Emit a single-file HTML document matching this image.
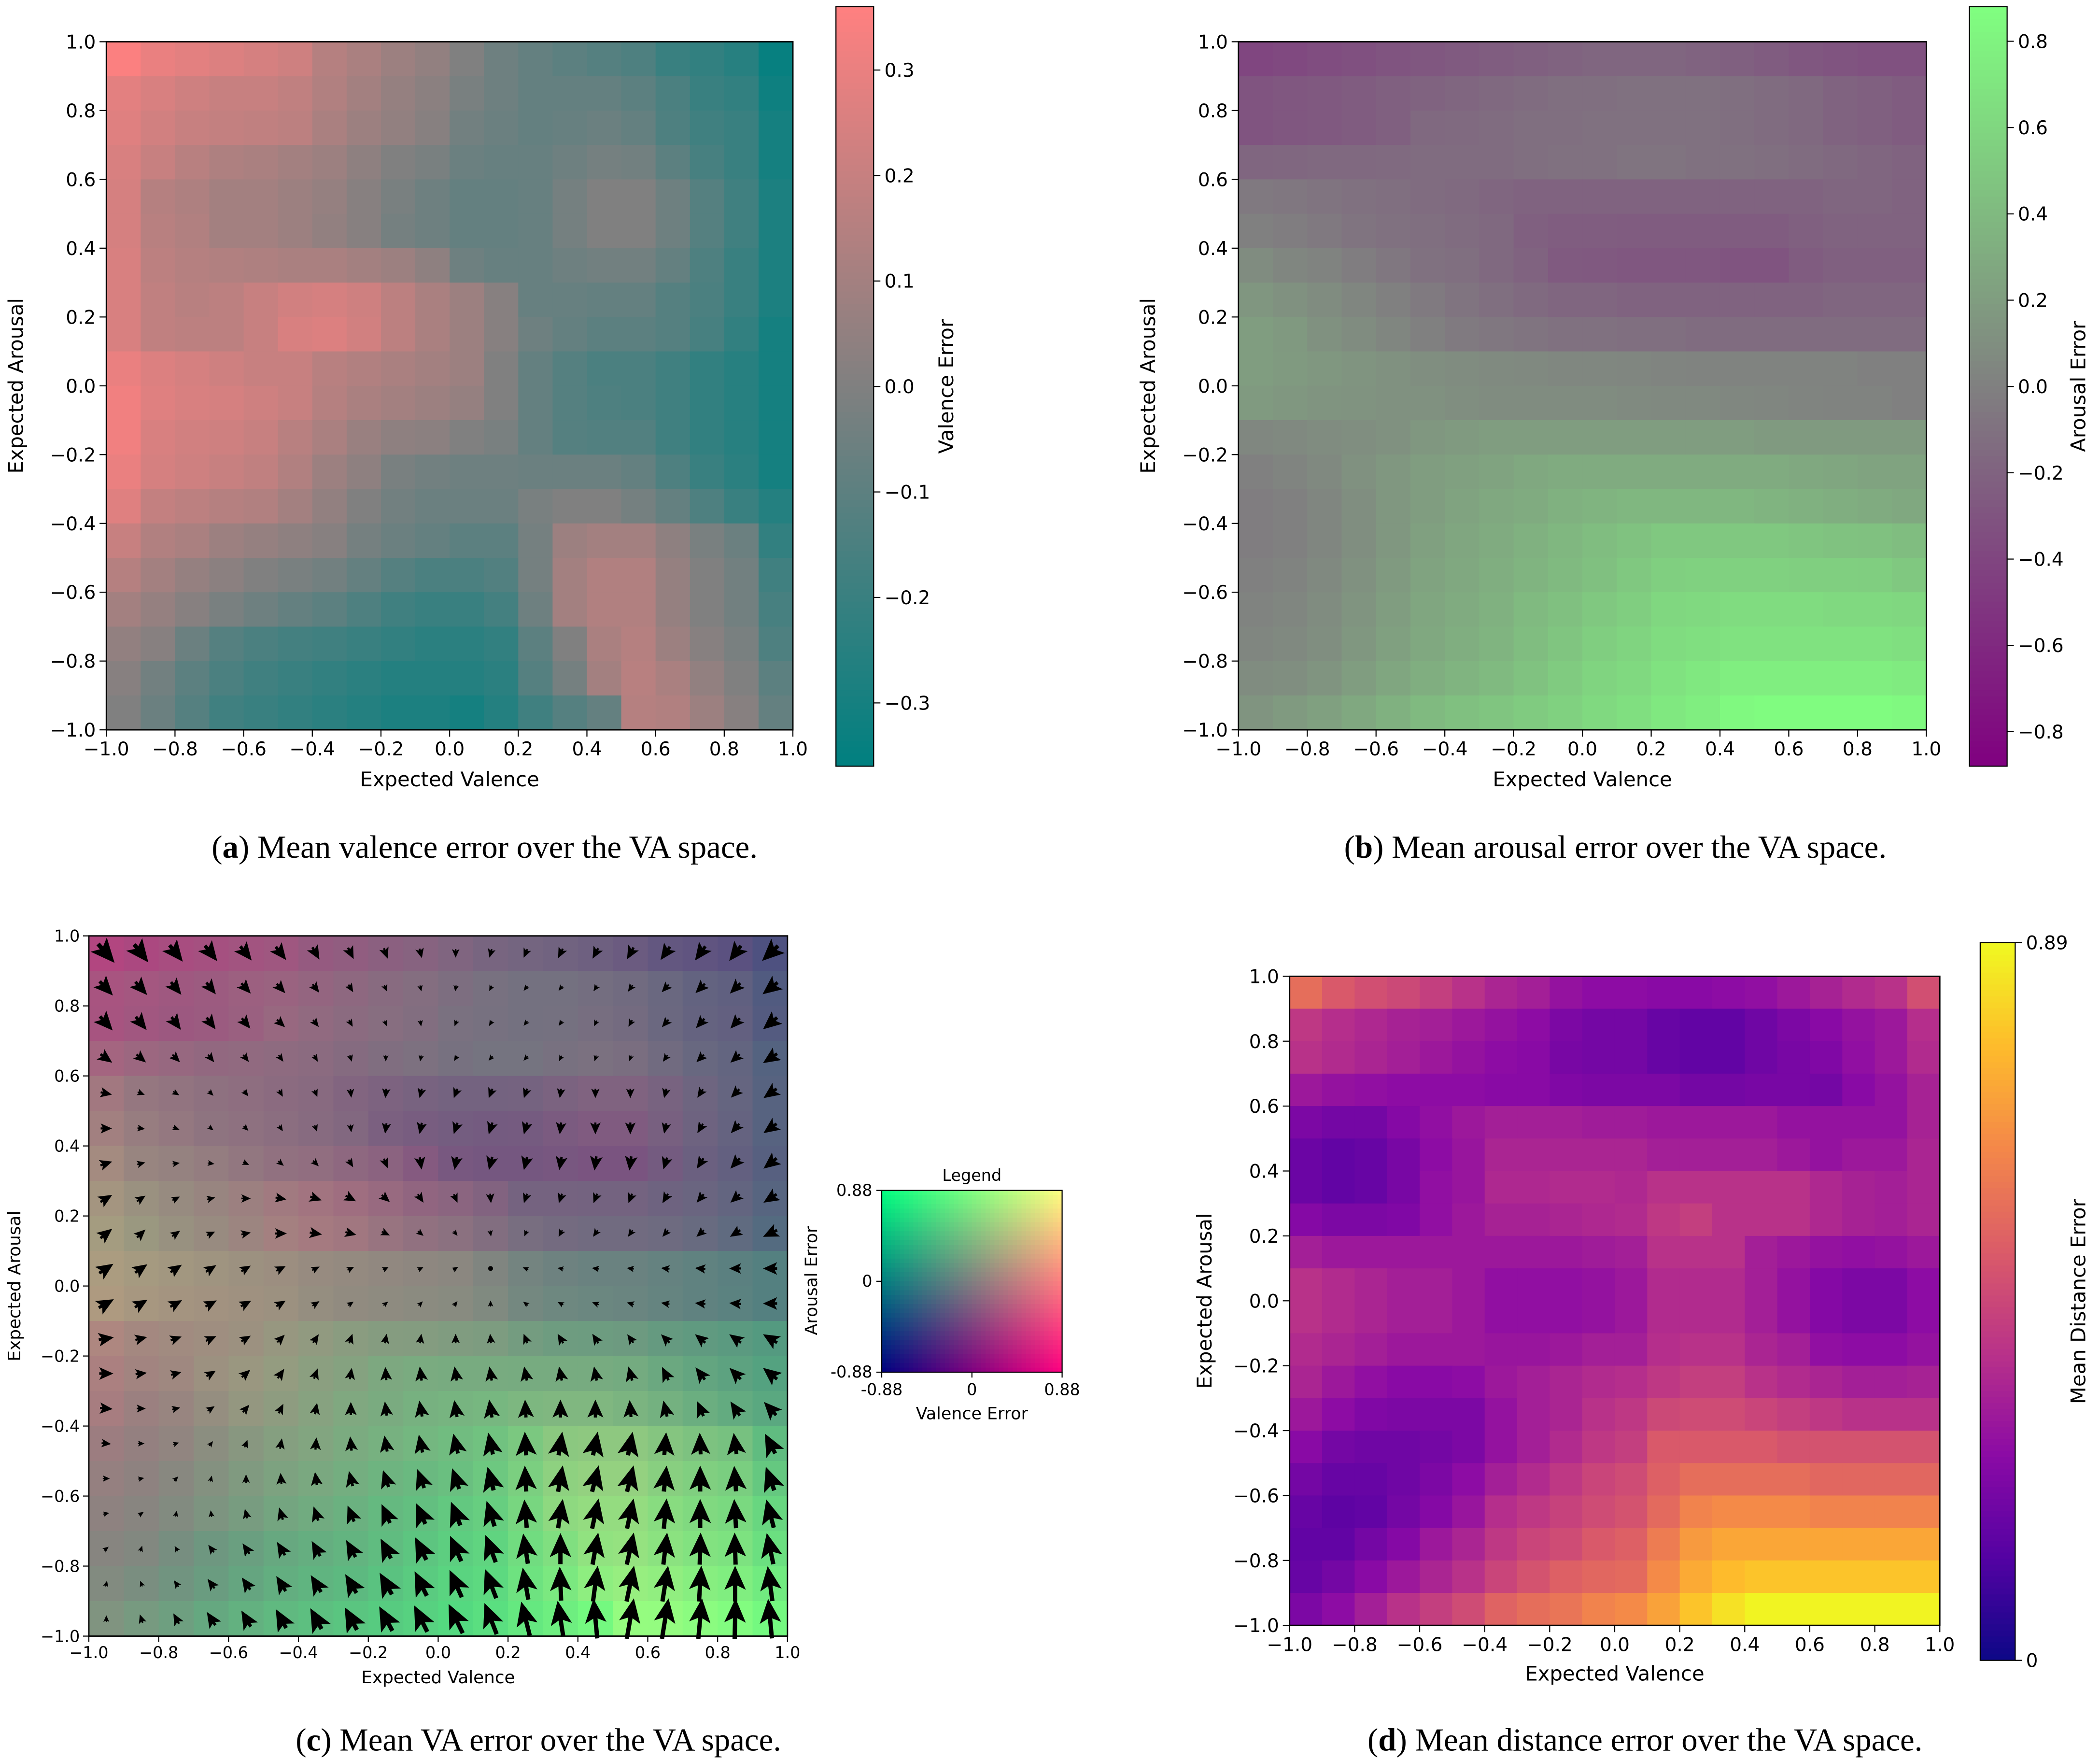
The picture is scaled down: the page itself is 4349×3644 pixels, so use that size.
<!DOCTYPE html>
<html><head><meta charset="utf-8">
<style>
html,body{margin:0;padding:0;background:#fff;}
svg{display:block;}
text{font-family:"DejaVu Sans","Liberation Sans",sans-serif;fill:#000;}
.cap{font-family:"Liberation Serif",serif;}
</style></head>
<body>
<svg id="fig" xmlns="http://www.w3.org/2000/svg" width="4349" height="3644" viewBox="0 0 1560 1307" preserveAspectRatio="none">
<rect x="0" y="0" width="1560" height="1307" fill="#fff"/>
</svg>
<script>
// ---- data (rows top arousal 0.9..1.0 -> bottom -1.0..-0.9; columns valence -1..1) ----
const tickValues = [-1.0,-0.8,-0.6,-0.4,-0.2,0.0,0.2,0.4,0.6,0.8,1.0];
const tickLabels = ["\u22121.0","\u22120.8","\u22120.6","\u22120.4","\u22120.2","0.0","0.2","0.4","0.6","0.8","1.0"];
const valenceCbarTicks = [0.3,0.2,0.1,0.0,-0.1,-0.2,-0.3];
const valenceCbarLabels = ["0.3","0.2","0.1","0.0","\u22120.1","\u22120.2","\u22120.3"];
const arousalCbarTicks = [0.8,0.6,0.4,0.2,0.0,-0.2,-0.4,-0.6,-0.8];
const arousalCbarLabels = ["0.8","0.6","0.4","0.2","0.0","\u22120.2","\u22120.4","\u22120.6","\u22120.8"];
const distCbarTicks = [0.89,0];
const distCbarLabels = ["0.89","0"];
const valenceErr = [
[0.35,0.3,0.28,0.26,0.24,0.22,0.15,0.12,0.08,0.05,0.0,-0.05,-0.08,-0.1,-0.12,-0.14,-0.2,-0.22,-0.25,-0.34],
[0.28,0.25,0.22,0.2,0.2,0.18,0.14,0.1,0.06,0.03,-0.02,-0.05,-0.08,-0.08,-0.08,-0.1,-0.15,-0.2,-0.22,-0.32],
[0.27,0.23,0.2,0.19,0.18,0.17,0.12,0.08,0.05,0.02,-0.04,-0.06,-0.08,-0.07,-0.06,-0.08,-0.14,-0.18,-0.2,-0.3],
[0.25,0.2,0.16,0.13,0.12,0.1,0.08,0.04,0.0,-0.02,-0.06,-0.07,-0.07,-0.05,-0.03,-0.04,-0.1,-0.16,-0.2,-0.3],
[0.24,0.15,0.13,0.1,0.1,0.08,0.06,0.02,-0.02,-0.05,-0.08,-0.08,-0.07,-0.03,0.0,0.0,-0.05,-0.12,-0.18,-0.28],
[0.24,0.16,0.14,0.1,0.1,0.08,0.05,0.02,-0.03,-0.05,-0.08,-0.08,-0.07,-0.03,0.0,0.0,-0.05,-0.12,-0.18,-0.28],
[0.25,0.17,0.15,0.14,0.13,0.12,0.12,0.1,0.08,0.04,-0.05,-0.07,-0.07,-0.05,-0.04,-0.04,-0.08,-0.14,-0.2,-0.28],
[0.25,0.18,0.16,0.17,0.2,0.23,0.24,0.22,0.17,0.12,0.08,0.02,-0.07,-0.07,-0.08,-0.08,-0.12,-0.15,-0.2,-0.28],
[0.25,0.18,0.17,0.17,0.2,0.25,0.26,0.23,0.17,0.12,0.08,0.02,-0.05,-0.08,-0.1,-0.1,-0.12,-0.16,-0.22,-0.3],
[0.3,0.26,0.24,0.22,0.2,0.2,0.16,0.14,0.12,0.1,0.08,0.0,-0.08,-0.12,-0.15,-0.15,-0.18,-0.22,-0.25,-0.3],
[0.32,0.27,0.25,0.24,0.22,0.2,0.15,0.12,0.1,0.08,0.06,0.0,-0.08,-0.12,-0.14,-0.15,-0.18,-0.22,-0.25,-0.3],
[0.32,0.25,0.23,0.22,0.2,0.16,0.12,0.07,0.04,0.03,0.0,-0.02,-0.08,-0.12,-0.13,-0.13,-0.18,-0.22,-0.25,-0.3],
[0.3,0.24,0.22,0.2,0.18,0.14,0.08,0.04,-0.02,-0.04,-0.05,-0.05,-0.06,-0.06,-0.06,-0.08,-0.14,-0.2,-0.24,-0.3],
[0.27,0.19,0.17,0.15,0.14,0.1,0.05,0.0,-0.04,-0.06,-0.06,-0.06,-0.02,0.0,0.0,-0.03,-0.08,-0.14,-0.2,-0.26],
[0.2,0.14,0.12,0.08,0.06,0.04,0.02,-0.03,-0.06,-0.08,-0.1,-0.1,-0.03,0.08,0.1,0.1,0.04,-0.02,-0.06,-0.22],
[0.15,0.1,0.06,0.03,0.0,-0.02,-0.04,-0.08,-0.12,-0.15,-0.15,-0.13,-0.03,0.1,0.14,0.14,0.06,0.0,-0.04,-0.18],
[0.1,0.06,0.02,-0.02,-0.05,-0.08,-0.1,-0.14,-0.18,-0.2,-0.2,-0.17,-0.05,0.1,0.14,0.14,0.06,0.0,-0.04,-0.16],
[0.05,0.02,-0.06,-0.12,-0.15,-0.17,-0.18,-0.2,-0.22,-0.24,-0.24,-0.22,-0.1,0.0,0.12,0.15,0.08,0.02,-0.02,-0.14],
[0.02,-0.04,-0.1,-0.15,-0.18,-0.2,-0.22,-0.24,-0.26,-0.26,-0.26,-0.24,-0.12,-0.03,0.1,0.16,0.12,0.05,0.0,-0.1],
[0.0,-0.06,-0.12,-0.18,-0.2,-0.22,-0.24,-0.26,-0.28,-0.28,-0.3,-0.26,-0.18,-0.12,-0.08,0.15,0.14,0.08,0.02,-0.08]
];
const arousalErr = [
[-0.4,-0.38,-0.35,-0.33,-0.3,-0.28,-0.26,-0.24,-0.22,-0.2,-0.18,-0.18,-0.18,-0.2,-0.22,-0.25,-0.28,-0.3,-0.32,-0.32],
[-0.3,-0.28,-0.27,-0.25,-0.22,-0.2,-0.18,-0.16,-0.14,-0.12,-0.12,-0.1,-0.1,-0.1,-0.12,-0.14,-0.16,-0.2,-0.22,-0.25],
[-0.3,-0.28,-0.27,-0.25,-0.22,-0.16,-0.15,-0.14,-0.12,-0.12,-0.1,-0.1,-0.1,-0.1,-0.12,-0.14,-0.16,-0.2,-0.22,-0.25],
[-0.18,-0.17,-0.16,-0.16,-0.15,-0.14,-0.14,-0.14,-0.12,-0.1,-0.1,-0.08,-0.08,-0.1,-0.1,-0.12,-0.14,-0.16,-0.18,-0.2],
[-0.05,-0.06,-0.08,-0.1,-0.12,-0.14,-0.15,-0.18,-0.2,-0.2,-0.2,-0.2,-0.2,-0.2,-0.2,-0.2,-0.2,-0.18,-0.18,-0.2],
[0.0,-0.02,-0.05,-0.08,-0.1,-0.12,-0.14,-0.16,-0.22,-0.24,-0.24,-0.25,-0.25,-0.25,-0.25,-0.25,-0.22,-0.2,-0.2,-0.2],
[0.08,0.04,0.02,-0.02,-0.06,-0.1,-0.12,-0.16,-0.2,-0.26,-0.27,-0.28,-0.28,-0.28,-0.3,-0.3,-0.25,-0.22,-0.22,-0.22],
[0.15,0.12,0.08,0.04,0.0,-0.04,-0.08,-0.12,-0.15,-0.18,-0.18,-0.2,-0.2,-0.2,-0.2,-0.2,-0.2,-0.18,-0.18,-0.18],
[0.2,0.17,0.12,0.08,0.04,0.0,-0.04,-0.06,-0.08,-0.1,-0.1,-0.12,-0.12,-0.14,-0.14,-0.14,-0.14,-0.14,-0.14,-0.14],
[0.2,0.18,0.16,0.14,0.12,0.1,0.08,0.07,0.06,0.05,0.05,0.04,0.03,0.02,0.02,0.02,0.02,0.02,0.0,0.0],
[0.18,0.16,0.14,0.13,0.12,0.12,0.1,0.08,0.08,0.08,0.08,0.07,0.06,0.06,0.05,0.04,0.03,0.02,0.02,0.0],
[0.05,0.06,0.08,0.1,0.12,0.16,0.18,0.2,0.2,0.2,0.2,0.2,0.2,0.2,0.2,0.18,0.18,0.18,0.18,0.18],
[0.0,0.03,0.06,0.12,0.16,0.2,0.22,0.24,0.28,0.3,0.3,0.3,0.3,0.3,0.3,0.3,0.28,0.26,0.24,0.24],
[-0.02,0.0,0.04,0.1,0.16,0.2,0.24,0.28,0.3,0.34,0.36,0.38,0.38,0.38,0.38,0.36,0.34,0.32,0.3,0.28],
[-0.02,0.0,0.04,0.1,0.16,0.22,0.26,0.3,0.34,0.38,0.42,0.46,0.5,0.5,0.5,0.5,0.48,0.46,0.45,0.42],
[0.0,0.02,0.06,0.12,0.18,0.24,0.28,0.32,0.36,0.4,0.44,0.5,0.55,0.56,0.56,0.56,0.55,0.55,0.54,0.5],
[0.02,0.04,0.08,0.14,0.2,0.26,0.3,0.34,0.4,0.44,0.5,0.54,0.6,0.62,0.64,0.64,0.64,0.62,0.62,0.6],
[0.04,0.06,0.1,0.16,0.22,0.28,0.32,0.36,0.42,0.48,0.54,0.58,0.64,0.66,0.68,0.68,0.68,0.68,0.68,0.66],
[0.08,0.1,0.14,0.2,0.26,0.32,0.36,0.4,0.46,0.52,0.58,0.62,0.68,0.72,0.76,0.76,0.76,0.76,0.76,0.74],
[0.14,0.18,0.22,0.28,0.34,0.4,0.44,0.48,0.52,0.56,0.62,0.66,0.72,0.76,0.84,0.86,0.86,0.86,0.86,0.84]
];
const distErr = [
[0.56,0.5,0.47,0.45,0.42,0.38,0.34,0.32,0.28,0.26,0.26,0.25,0.25,0.26,0.27,0.3,0.33,0.36,0.38,0.47],
[0.4,0.37,0.35,0.33,0.32,0.3,0.28,0.26,0.22,0.2,0.2,0.17,0.16,0.16,0.19,0.22,0.25,0.28,0.3,0.37],
[0.38,0.36,0.34,0.32,0.3,0.28,0.26,0.25,0.21,0.2,0.2,0.17,0.16,0.16,0.19,0.21,0.23,0.27,0.3,0.36],
[0.3,0.28,0.27,0.26,0.26,0.26,0.25,0.25,0.23,0.22,0.22,0.22,0.2,0.2,0.21,0.21,0.2,0.25,0.28,0.33],
[0.22,0.2,0.2,0.24,0.27,0.3,0.32,0.32,0.32,0.31,0.31,0.3,0.3,0.3,0.3,0.28,0.28,0.28,0.28,0.33],
[0.18,0.16,0.17,0.21,0.26,0.29,0.34,0.34,0.34,0.34,0.34,0.32,0.32,0.32,0.32,0.3,0.28,0.3,0.3,0.34],
[0.18,0.16,0.17,0.21,0.27,0.29,0.35,0.35,0.36,0.36,0.35,0.38,0.38,0.38,0.38,0.38,0.35,0.33,0.32,0.34],
[0.24,0.22,0.22,0.23,0.27,0.3,0.33,0.33,0.34,0.35,0.36,0.4,0.42,0.38,0.38,0.38,0.35,0.33,0.32,0.34],
[0.32,0.3,0.3,0.3,0.3,0.3,0.3,0.3,0.3,0.31,0.32,0.38,0.38,0.38,0.32,0.3,0.28,0.27,0.28,0.3],
[0.38,0.36,0.34,0.32,0.32,0.3,0.27,0.27,0.27,0.28,0.3,0.36,0.36,0.36,0.32,0.28,0.24,0.22,0.22,0.26],
[0.38,0.36,0.34,0.32,0.32,0.3,0.27,0.27,0.27,0.28,0.3,0.36,0.36,0.36,0.32,0.28,0.24,0.22,0.22,0.26],
[0.36,0.34,0.32,0.3,0.3,0.3,0.29,0.29,0.3,0.32,0.32,0.37,0.38,0.38,0.34,0.32,0.27,0.26,0.26,0.28],
[0.34,0.3,0.27,0.25,0.25,0.26,0.3,0.32,0.34,0.36,0.37,0.4,0.42,0.42,0.38,0.36,0.34,0.32,0.32,0.33],
[0.3,0.26,0.23,0.22,0.22,0.22,0.28,0.32,0.34,0.38,0.4,0.45,0.46,0.46,0.44,0.42,0.4,0.38,0.38,0.38],
[0.25,0.2,0.19,0.19,0.2,0.22,0.28,0.32,0.36,0.4,0.42,0.5,0.5,0.5,0.5,0.48,0.48,0.48,0.48,0.48],
[0.2,0.17,0.17,0.19,0.22,0.26,0.32,0.36,0.4,0.44,0.46,0.52,0.56,0.56,0.56,0.56,0.54,0.54,0.54,0.54],
[0.17,0.15,0.16,0.2,0.24,0.29,0.37,0.4,0.43,0.46,0.48,0.55,0.62,0.64,0.64,0.64,0.62,0.62,0.62,0.62],
[0.16,0.16,0.2,0.24,0.3,0.34,0.4,0.44,0.46,0.5,0.52,0.6,0.68,0.71,0.71,0.71,0.71,0.71,0.71,0.71],
[0.17,0.2,0.25,0.3,0.34,0.38,0.44,0.48,0.52,0.54,0.55,0.64,0.72,0.76,0.78,0.78,0.78,0.78,0.78,0.78],
[0.22,0.26,0.32,0.38,0.42,0.46,0.53,0.56,0.58,0.62,0.64,0.7,0.78,0.84,0.88,0.88,0.88,0.88,0.88,0.88]
];

const NS = "http://www.w3.org/2000/svg";
const svg = document.getElementById('fig');
function mk(parent, tag, attrs, txt){
  const e = document.createElementNS(NS, tag);
  for (const k in attrs) e.setAttribute(k, attrs[k]);
  if (txt !== undefined) e.textContent = txt;
  parent.appendChild(e);
  return e;
}
function lerp(a,b,t){return a+(b-a)*t;}
function rgb(r,g,b){return `rgb(${Math.round(r)},${Math.round(g)},${Math.round(b)})`;}
function valenceColor(v){
  const t = Math.max(-1, Math.min(1, v/0.36));
  if (t < 0) return rgb(lerp(128,0,-t),128,128);
  return rgb(lerp(128,255,t),128,128);
}
function arousalColor(v){
  const t = Math.max(-1, Math.min(1, v/0.88));
  if (t < 0) return rgb(128,lerp(128,0,-t),128);
  return rgb(128,lerp(128,255,t),128);
}
function vaColor(v,a){
  const r = Math.max(0,Math.min(1,(v+0.88)/1.76))*255;
  const g = Math.max(0,Math.min(1,(a+0.88)/1.76))*255;
  return rgb(r,g,128);
}
const plasmaStops = [[13,8,135],[84,2,163],[139,10,165],[185,50,137],[219,92,104],[244,136,73],[254,188,43],[240,249,33]];
function plasmaColor(v){
  const t = Math.max(0,Math.min(1,v/0.89))*(plasmaStops.length-1);
  const i = Math.min(plasmaStops.length-2, Math.floor(t)); const f = t-i;
  const a = plasmaStops[i], b = plasmaStops[i+1];
  return rgb(lerp(a[0],b[0],f),lerp(a[1],b[1],f),lerp(a[2],b[2],f));
}
function makeAxis(x0,y0,w,h){
  return {x0,y0,w,h, sx:v=>x0+(v+1)/2*w, sy:a=>y0+(1-a)/2*h};
}
function drawHeatmap(ax, colorAt, name){
  const g = mk(svg,'g',{});
  
  
  for (let r=0;r<20;r++){
    for (let c=0;c<20;c++){
      const v0 = -1+0.1*c, a1 = 1-0.1*r;
      const x = ax.sx(v0), y = ax.sy(a1);
      const cell = mk(g,'rect',{x:x, y:y, width:ax.sx(v0+0.1)-x+0.4, height:ax.sy(a1-0.1)-y+0.4, fill:colorAt(r,c)});
      
      
    }
  }
  const fr = mk(svg,'rect',{x:ax.x0,y:ax.y0,width:ax.w,height:ax.h,fill:'none',stroke:'#000','stroke-width':1});
  
  
}
function drawAxes(ax, fs, xlabelY, ylabelX, prefix){
  const g = mk(svg,'g',{});
  
  
  const tl = fs*0.36;
  tickValues.forEach((v,i)=>{
    const x = ax.sx(v);
    mk(g,'line',{x1:x,y1:ax.y0+ax.h,x2:x,y2:ax.y0+ax.h+tl,stroke:'#000','stroke-width':0.8});
    const t = mk(g,'text',{x:x,y:ax.y0+ax.h+tl+fs*1.0,'font-size':fs,'text-anchor':'middle'},tickLabels[i]);
    
    
    const y = ax.sy(v);
    mk(g,'line',{x1:ax.x0,y1:y,x2:ax.x0-tl,y2:y,stroke:'#000','stroke-width':0.8});
    const t2 = mk(g,'text',{x:ax.x0-tl-fs*0.2,y:y+fs*0.36,'font-size':fs,'text-anchor':'end'},tickLabels[i]);
    
    
  });
  const xl = mk(g,'text',{x:ax.x0+ax.w/2,y:xlabelY,'font-size':fs*1.07,'text-anchor':'middle'},'Expected Valence');
  
  
  const cy = ax.y0+ax.h/2;
  const yl = mk(g,'text',{x:ylabelX,y:cy,'font-size':fs*1.07,'text-anchor':'middle',transform:`rotate(-90 ${ylabelX} ${cy})`},'Expected Arousal');
  
  
}
function drawColorbar(x,y,w,h,vmin,vmax,colorFn,ticks,labels,title,titleX,prefix){
  const g = mk(svg,'g',{});
  
  
  const n = 120;
  for (let i=0;i<n;i++){
    const v = vmax-(vmax-vmin)*(i+0.5)/n;
    mk(g,'rect',{x:x,y:y+h*i/n,width:w,height:h/n+0.3,fill:colorFn(v)});
  }
  mk(g,'rect',{x:x,y:y,width:w,height:h,fill:'none',stroke:'#000','stroke-width':0.8});
  ticks.forEach((v,i)=>{
    const ty = y + (vmax-v)/(vmax-vmin)*h;
    mk(g,'line',{x1:x+w,y1:ty,x2:x+w+5,y2:ty,stroke:'#000','stroke-width':0.8});
    const t = mk(g,'text',{x:x+w+8,y:ty+5,'font-size':14},labels[i]);
    
    
  });
  const cy = y+h/2;
  const tt = mk(g,'text',{x:titleX,y:cy,'font-size':15,'text-anchor':'middle',transform:`rotate(-90 ${titleX} ${cy})`},title);
  
  
}
function caption(x,y,letter,rest,name){
  const t = mk(svg,'text',{x:x,y:y,'font-size':24,'text-anchor':'middle',class:'cap'});
  
  
  mk(t,'tspan',{},'(');
  mk(t,'tspan',{'font-weight':'bold'},letter);
  mk(t,'tspan',{},') '+rest);
}

// Panel a
const axA = makeAxis(79,31,510,511);
drawHeatmap(axA,(r,c)=>valenceColor(valenceErr[r][c]),'valence-error-heatmap');
drawAxes(axA,14,584,17,'panel-a');
drawColorbar(621,5,28,564,-0.36,0.36,valenceColor,valenceCbarTicks,valenceCbarLabels,'Valence Error',708,'valence');
caption(360,637,'a','Mean valence error over the VA space.','caption-a');

// Panel b
const axB = makeAxis(920,31,511,511);
drawHeatmap(axB,(r,c)=>arousalColor(arousalErr[r][c]),'arousal-error-heatmap');
drawAxes(axB,14,584,858,'panel-b');
drawColorbar(1463,5,28,564,-0.88,0.88,arousalColor,arousalCbarTicks,arousalCbarLabels,'Arousal Error',1549,'arousal');
caption(1200,637,'b','Mean arousal error over the VA space.','caption-b');

// Panel c
const axC = makeAxis(66,695,519,520);
drawHeatmap(axC,(r,c)=>vaColor(valenceErr[r][c],arousalErr[r][c]),'va-error-heatmap');
drawAxes(axC,12,1250,15,'panel-c');
const qg = mk(svg,'g',{});


const arrowScale = 35, sw = 3.2;
for (let r=0;r<20;r++){
  for (let c=0;c<20;c++){
    const u = valenceErr[r][c], v = arousalErr[r][c];
    const cx = axC.sx(-0.95+0.1*c), cy = axC.sy(0.95-0.1*r);
    const L = Math.hypot(u,v)*arrowScale;
    const ang = Math.atan2(-v,u)*180/Math.PI;
    let el;
    if (L < 1.5){
      el = mk(qg,'circle',{cx:cx,cy:cy,r:1.8,fill:'#000'});
    } else {
      const hl = 5.6*sw, hal = 4.6*sw, hw = 2.5*sw;
      let pts;
      if (L >= hl){
        const t = L/2;
        pts = [[-t,-sw/2],[t-hal,-sw/2],[t-hl,-hw],[t,0],[t-hl,hw],[t-hal,sw/2],[-t,sw/2]];
      } else {
        const s = Math.max(L/hl,0.25), t = L/2;
        const tt = Math.max(t, hl*s/2);
        pts = [[-tt,-sw/2*s],[tt-hal*s,-sw/2*s],[tt-hl*s,-hw*s],[tt,0],[tt-hl*s,hw*s],[tt-hal*s,sw/2*s],[-tt,sw/2*s]];
      }
      el = mk(qg,'polygon',{points:pts.map(p=>p[0].toFixed(2)+','+p[1].toFixed(2)).join(' '),fill:'#000',transform:`translate(${cx.toFixed(2)} ${cy.toFixed(2)}) rotate(${ang.toFixed(2)})`});
    }
    
    
  }
}
// legend
const lg = mk(svg,'g',{});


const LX=655, LY=884, LW=134, LH=135, LN=40;
for (let i=0;i<LN;i++){
  for (let j=0;j<LN;j++){
    const ve = -0.88+1.76*(i+0.5)/LN, ae = 0.88-1.76*(j+0.5)/LN;
    mk(lg,'rect',{x:LX+LW*i/LN,y:LY+LH*j/LN,width:LW/LN+0.3,height:LH/LN+0.3,fill:vaColor(ve,ae)});
  }
}
mk(lg,'rect',{x:LX,y:LY,width:LW,height:LH,fill:'none',stroke:'#000','stroke-width':0.8});
const ltitle = mk(lg,'text',{x:LX+LW/2,y:LY-7,'font-size':12,'text-anchor':'middle'},'Legend');


const legendTicks = [0.88,0,-0.88];
const legendLabels = ["0.88","0","-0.88"];
legendTicks.forEach((v,i)=>{
  const y = LY + (0.88-v)/1.76*LH;
  mk(lg,'line',{x1:LX,y1:y,x2:LX-4,y2:y,stroke:'#000','stroke-width':0.8});
  const t = mk(lg,'text',{x:LX-7,y:y+4,'font-size':12,'text-anchor':'end'},legendLabels[i]);
  
  
  const x = LX + (-v+0.88)/1.76*LW;
  mk(lg,'line',{x1:x,y1:LY+LH,x2:x,y2:LY+LH+4,stroke:'#000','stroke-width':0.8});
  const t2 = mk(lg,'text',{x:x,y:LY+LH+17,'font-size':12,'text-anchor':'middle'},legendLabels[2-i]);
  
  
});
const lxl = mk(lg,'text',{x:LX+LW/2,y:1054,'font-size':12.5,'text-anchor':'middle'},'Valence Error');


const lyl = mk(lg,'text',{x:607,y:951,'font-size':12.5,'text-anchor':'middle',transform:'rotate(-90 607 951)'},'Arousal Error');


caption(400,1300,'c','Mean VA error over the VA space.','caption-c');

// Panel d
const axD = makeAxis(958,725,483,482);
drawHeatmap(axD,(r,c)=>plasmaColor(distErr[r][c]),'distance-error-heatmap');
drawAxes(axD,14,1248,900,'panel-d');
drawColorbar(1471,700,26,533,0,0.89,plasmaColor,distCbarTicks,distCbarLabels,'Mean Distance Error',1549,'distance');
caption(1222,1300,'d','Mean distance error over the VA space.','caption-d');
</script>
</body></html>
